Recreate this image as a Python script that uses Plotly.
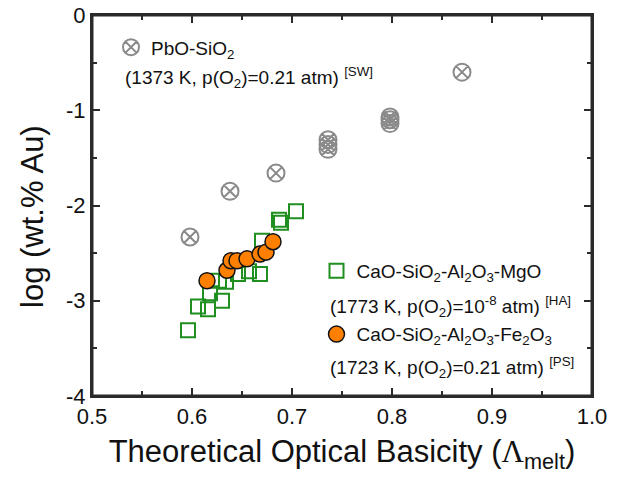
import plotly.graph_objects as go

# PbO-SiO2 (1373 K)
pbo_x = [0.598, 0.638, 0.684, 0.736, 0.736, 0.736, 0.798, 0.798, 0.798, 0.870]
pbo_y = [-2.33, -1.85, -1.66, -1.31, -1.36, -1.41, -1.07, -1.10, -1.14, -0.60]

# CaO-SiO2-Al2O3-MgO (1773 K)
cas_x = [0.596, 0.606, 0.616, 0.630, 0.618, 0.627, 0.634, 0.646, 0.657, 0.668, 0.670, 0.687, 0.689, 0.704]
cas_y = [-3.31, -3.06, -3.09, -3.00, -2.92, -2.79, -2.80, -2.72, -2.69, -2.72, -2.37, -2.15, -2.18, -2.06]

# CaO-SiO2-Al2O3-Fe2O3 (1723 K)
fe_x = [0.615, 0.635, 0.639, 0.645, 0.655, 0.668, 0.674, 0.681]
fe_y = [-2.79, -2.68, -2.58, -2.58, -2.56, -2.51, -2.49, -2.38]

x_ticks = [0.5, 0.6, 0.7, 0.8, 0.9, 1.0]
x_ticklabels = ["0.5", "0.6", "0.7", "0.8", "0.9", "1.0"]
y_ticks = [0, -1, -2, -3, -4]
y_ticklabels = ["0", "-1", "-2", "-3", "-4"]

FONT = "Arial, Liberation Sans, sans-serif"
AXC = "#2a2a2a"
TXT = "#111111"

fig = go.Figure()
fig.add_trace(go.Scatter(
    x=pbo_x, y=pbo_y, mode="markers", name="PbO-SiO<sub>2</sub>", legend="legend", showlegend=True,
    marker=dict(symbol="circle-x-open", size=17, color="#8a8a8a", line=dict(width=2, color="#8a8a8a"))))
fig.add_trace(go.Scatter(
    x=cas_x, y=cas_y, mode="markers", name="CaO-SiO<sub>2</sub>-Al<sub>2</sub>O<sub>3</sub>-MgO", legend="legend2",
    showlegend=True,
    marker=dict(symbol="square-open", size=14, color="#1f8f1f", line=dict(width=2, color="#1f8f1f"))))
fig.add_trace(go.Scatter(
    x=fe_x, y=fe_y, mode="markers", name="CaO-SiO<sub>2</sub>-Al<sub>2</sub>O<sub>3</sub>-Fe<sub>2</sub>O<sub>3</sub>", legend="legend3",
    showlegend=True,
    marker=dict(symbol="circle", size=16, color="#ff8000", line=dict(width=1.5, color="#111111"))))

leg_common = dict(font=dict(family=FONT, size=19, color=TXT), bgcolor="rgba(0,0,0,0)",
                  xanchor="left", yanchor="top", itemsizing="trace", tracegroupgap=0, visible=True)

fig.update_layout(
    width=639, height=477,
    margin=dict(l=92, r=47, t=15, b=81),
    paper_bgcolor="white", plot_bgcolor="white",
    font=dict(family=FONT, color=TXT),
    showlegend=True,
    legend=dict(x=0.038, y=0.965, **leg_common),
    legend2=dict(x=0.449, y=0.378, **leg_common),
    legend3=dict(x=0.449, y=0.212, **leg_common),
    xaxis=dict(range=[0.5, 1.0], tickvals=x_ticks, ticktext=x_ticklabels, automargin=False,
               ticks="inside", ticklen=8, tickwidth=1.5, tickcolor=AXC,
               minor=dict(dtick=0.05, ticks="inside", ticklen=5, tickwidth=1.5, tickcolor=AXC),
               showline=True, linecolor=AXC, linewidth=2, mirror="ticks",
               showgrid=False, zeroline=False, ticklabeloverflow="allow",
               tickfont=dict(size=22, family=FONT, color=TXT),
               title=dict(text="Theoretical Optical Basicity (<span style='font-family:Liberation Serif'>Λ</span><sub>melt</sub>)",
                          font=dict(size=31, family=FONT, color=TXT), standoff=12)),
    yaxis=dict(range=[-4, 0], tickvals=y_ticks, ticktext=y_ticklabels, automargin=False,
               ticks="inside", ticklen=8, tickwidth=1.5, tickcolor=AXC,
               minor=dict(dtick=0.5, ticks="inside", ticklen=5, tickwidth=1.5, tickcolor=AXC),
               showline=True, linecolor=AXC, linewidth=2, mirror="ticks",
               showgrid=False, zeroline=False, ticklabeloverflow="allow",
               tickfont=dict(size=22, family=FONT, color=TXT)),
)

# plot frame
fig.add_shape(type="rect", xref="paper", yref="paper", x0=0, y0=0, x1=1, y1=1,
              line=dict(color=AXC, width=3), fillcolor="rgba(0,0,0,0)", layer="above")

fig.add_annotation(xref="paper", yref="paper", x=-0.118, y=0.47, xanchor="center", yanchor="middle",
                   textangle=-90, text="log (wt.% Au)", showarrow=False,
                   font=dict(size=31, family=FONT, color=TXT))

cond_font = dict(family=FONT, size=19, color=TXT)
fig.add_annotation(xref="paper", yref="paper", x=0.062, y=0.837, xanchor="left", yanchor="middle",
                   text="(1373 K, p(O<sub>2</sub>)=0.21 atm) <sup>[SW]</sup>", showarrow=False, font=cond_font)
fig.add_annotation(xref="paper", yref="paper", x=0.472, y=0.236, xanchor="left", yanchor="middle",
                   text="(1773 K, p(O<sub>2</sub>)=10<sup>-8</sup> atm) <sup>[HA]</sup>", showarrow=False, font=cond_font)
fig.add_annotation(xref="paper", yref="paper", x=0.472, y=0.076, xanchor="left", yanchor="middle",
                   text="(1723 K, p(O<sub>2</sub>)=0.21 atm) <sup>[PS]</sup>", showarrow=False, font=cond_font)

# remove the default 8 px page margin so the figure sits at the window origin
fig.write_html("out.html", config={"displayModeBar": False},
               post_script="document.body.style.margin='0px';")
